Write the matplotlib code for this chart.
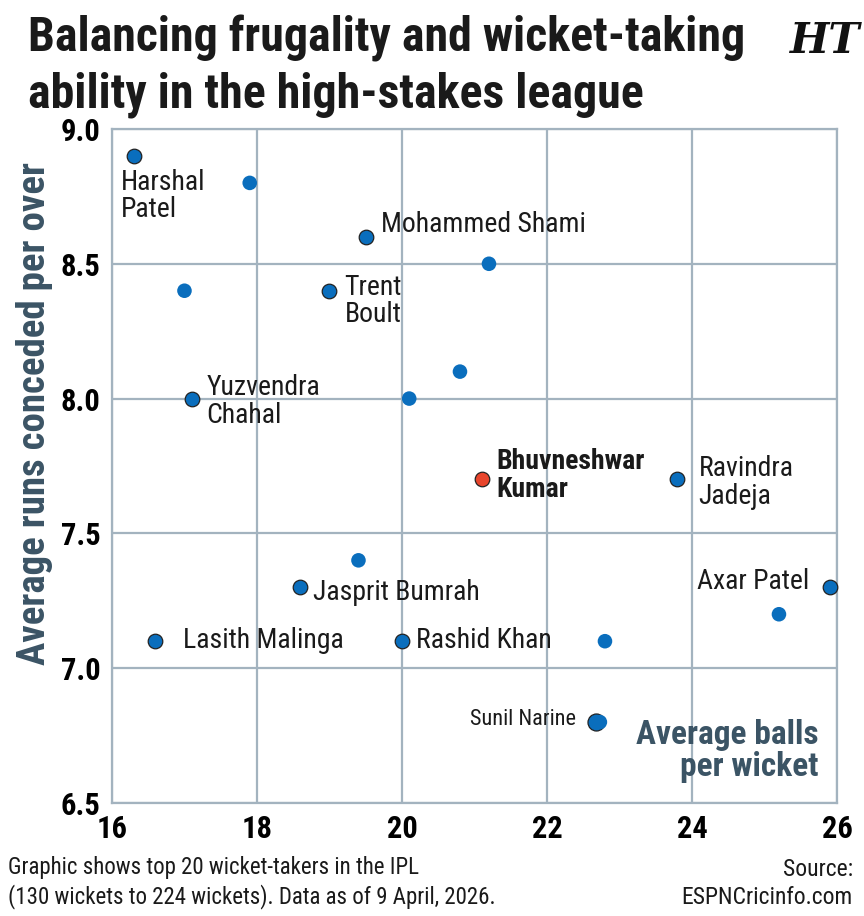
import matplotlib
matplotlib.use("Agg")
import matplotlib.pyplot as plt

# Average balls per wicket (x) and economy (y) for the top 20 IPL wicket-takers
players = ["Harshal Patel", "", "Mohammed Shami", "", "", "Trent Boult",
           "Yuzvendra Chahal", "", "", "Bhuvneshwar Kumar", "Ravindra Jadeja",
           "", "Jasprit Bumrah", "Lasith Malinga", "Rashid Khan", "",
           "Axar Patel", "", "Sunil Narine", ""]
balls_per_wkt = [16.3, 17.9, 19.5, 21.2, 17.0, 19.0, 17.1, 20.1, 20.8, 21.1,
                 23.8, 19.4, 18.6, 16.6, 20.0, 22.8, 25.9, 25.2, 22.68, 22.73]
economy = [8.9, 8.8, 8.6, 8.5, 8.4, 8.4, 8.0, 8.0, 8.1, 7.7,
           7.7, 7.4, 7.3, 7.1, 7.1, 7.1, 7.3, 7.2, 6.8, 6.8]

x_ticks = [16, 18, 20, 22, 24, 26]
y_ticks = [6.5, 7.0, 7.5, 8.0, 8.5, 9.0]

# label text, offset in pixels, alignment
labels = {
    "Harshal Patel": ("Harshal\nPatel", (-13, -13), "left", "top"),
    "Mohammed Shami": ("Mohammed Shami", (15, 12), "left", "center"),
    "Trent Boult": ("Trent\nBoult", (15, -10), "left", "center"),
    "Yuzvendra Chahal": ("Yuzvendra\nChahal", (15, -3), "left", "center"),
    "Bhuvneshwar Kumar": ("Bhuvneshwar\nKumar", (15, 4), "left", "center"),
    "Ravindra Jadeja": ("Ravindra\nJadeja", (21, -3), "left", "center"),
    "Jasprit Bumrah": ("Jasprit Bumrah", (13, -5), "left", "center"),
    "Lasith Malinga": ("Lasith Malinga", (28, 1), "left", "center"),
    "Rashid Khan": ("Rashid Khan", (14, 1), "left", "center"),
    "Axar Patel": ("Axar Patel", (-20, 6), "right", "center"),
    "Sunil Narine": ("Sunil Narine", (-20, 3), "right", "center"),
}

FONT = ["Roboto Condensed", "Liberation Sans Narrow", "DejaVu Sans"]
plt.rcParams["font.family"] = FONT

BLUE = "#0a6ebd"
RED = "#e8452c"
GRID = "#a3b3bf"
SLATE = "#3b5465"

fig = plt.figure(figsize=(8.64, 9.16), dpi=100)
ax = fig.add_axes([0.1296, 0.1234, 0.8391, 0.7358])

for name, x, y in zip(players, balls_per_wkt, economy):
    color = RED if name == "Bhuvneshwar Kumar" else BLUE
    edge = "#222222" if name else "none"
    size = 150 if name == "Sunil Narine" else 110
    ax.scatter(x, y, s=size, color=color, edgecolors=edge, linewidths=0.9,
               zorder=3, clip_on=False)
    if name in labels:
        text, off, ha, va = labels[name]
        bold = name == "Bhuvneshwar Kumar"
        fs = 16 if name == "Sunil Narine" else 20
        ax.annotate(text, (x, y), xytext=off, textcoords="offset pixels",
                    ha=ha, va=va, fontsize=fs, linespacing=1.02,
                    fontweight="bold" if bold else "normal",
                    color="#1a1a1a", zorder=4)

ax.set_xlim(16, 26)
ax.set_ylim(6.5, 9.0)
ax.set_xticks(x_ticks)
ax.set_yticks(y_ticks)
ax.set_xticklabels([str(t) for t in x_ticks], fontsize=22, fontweight="bold")
ax.set_yticklabels([f"{t:.1f}" for t in y_ticks], fontsize=22, fontweight="bold")
ax.tick_params(length=0, pad=8)
ax.grid(True, color=GRID, linewidth=1.6, zorder=0)
ax.set_axisbelow(True)
for s in ax.spines.values():
    s.set_color(GRID)
    s.set_linewidth(1.6)

# y axis title sits a little above the axes centre, as in the original
fig.text(0.040, 0.549, "Average runs conceded per over", rotation=90,
         ha="center", va="center", fontsize=28, fontweight="bold", color=SLATE)
ax.text(0.975, 0.03, "Average balls\nper wicket", transform=ax.transAxes,
        ha="right", va="bottom", fontsize=24, fontweight="bold", color=SLATE,
        linespacing=1.0)

fig.text(0.032, 0.984, "Balancing frugality and wicket-taking\nability in the high-stakes league",
         ha="left", va="top", fontsize=34.5, fontweight="bold", color="#1a1a1a",
         linespacing=1.27)
fig.text(0.955, 0.955, "HT", ha="center", va="center", fontsize=30,
         fontweight="bold", fontstyle="italic", family="DejaVu Serif", color="#111111")

fig.text(0.009, 0.008, "Graphic shows top 20 wicket-takers in the IPL\n(130 wickets to 224 wickets). Data as of 9 April, 2026.",
         ha="left", va="bottom", fontsize=16.5, color="#1a1a1a", linespacing=1.25)
fig.text(0.987, 0.008, "Source:\nESPNCricinfo.com", ha="right", va="bottom",
         fontsize=17, color="#1a1a1a", linespacing=1.25, multialignment="right")

fig.savefig("out.png", dpi=100, facecolor="white")
